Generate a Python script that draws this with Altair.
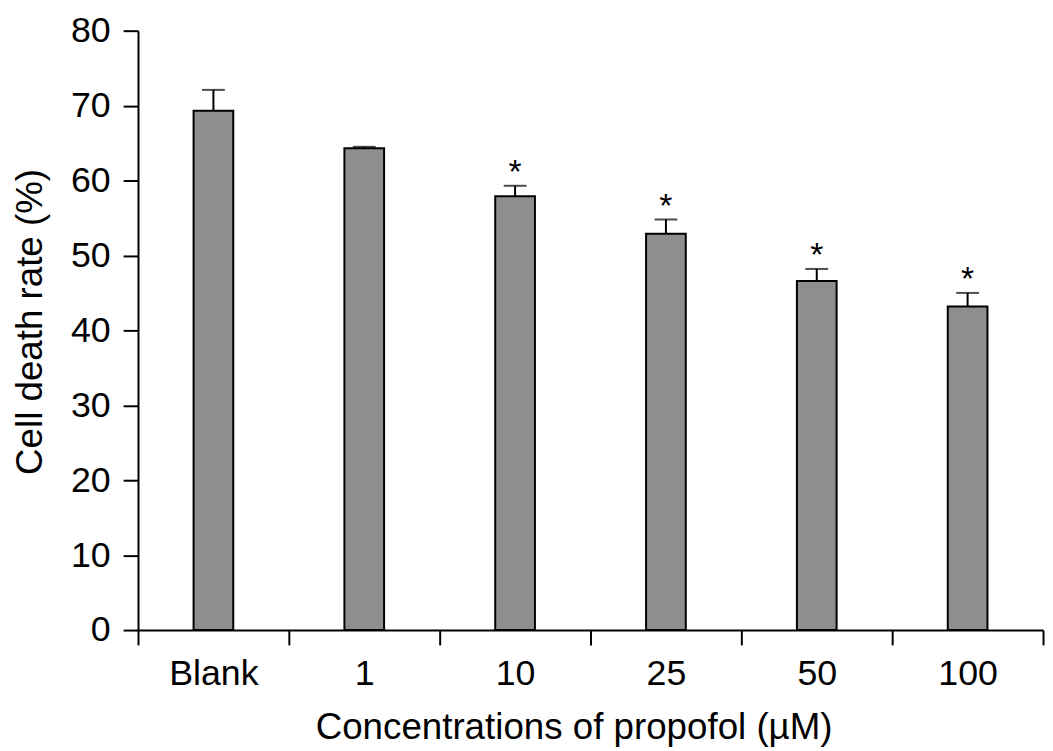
import altair as alt
import pandas as pd

categories = ["Blank", "1", "10", "25", "50", "100"]
means = [69.3, 64.3, 57.9, 52.9, 46.6, 43.2]
upper = [72.1, 64.5, 59.3, 54.8, 48.2, 45.0]
stars = ["", "", "*", "*", "*", "*"]
y_ticks = [0, 10, 20, 30, 40, 50, 60, 70, 80]

df = pd.DataFrame({"cat": categories, "mean": means, "upper": upper, "star": stars})

FONT = "Liberation Sans"

x_enc = alt.X(
    "cat:N",
    sort=categories,
    scale=alt.Scale(paddingInner=0, paddingOuter=0),
    axis=alt.Axis(
        title="Concentrations of propofol (\u00b5M)",
        labelAngle=0,
        tickBand="extent",
        tickSize=15,
        tickWidth=2,
        tickColor="black",
        domainColor="black",
        domainWidth=2,
        labelFont=FONT,
        labelFontSize=36,
        labelColor="black",
        labelPadding=12,
        titleFont=FONT,
        titleFontSize=37,
        titleFontWeight="normal",
        titleColor="black",
        titleX=439,
        titleY=109,
        titleAlign="center",
        titleBaseline="alphabetic",
    ),
)

y_enc = alt.Y(
    "mean:Q",
    scale=alt.Scale(domain=[0, 80], nice=False),
    axis=alt.Axis(
        title="Cell death rate (%)",
        values=y_ticks,
        grid=False,
        tickSize=15,
        tickWidth=2,
        tickColor="black",
        domainColor="black",
        domainWidth=2,
        labelFont=FONT,
        labelFontSize=36,
        labelColor="black",
        labelPadding=13,
        titleFont=FONT,
        titleFontSize=37,
        titleFontWeight="normal",
        titleColor="black",
        titleAngle=-90,
        titleX=-97,
        titleY=293,
        titleAlign="center",
        titleBaseline="alphabetic",
    ),
)

base = alt.Chart(df)

bars = base.mark_bar(size=40, color="#8e8e8e", stroke="black", strokeWidth=2).encode(
    x=x_enc, y=y_enc
)

err = base.mark_rule(color="black", strokeWidth=2).encode(
    x=alt.X("cat:N", sort=categories),
    y=alt.Y("mean:Q"),
    y2="upper:Q",
)

caps = base.mark_tick(orient="horizontal", size=23, thickness=2, color="black").encode(
    x=alt.X("cat:N", sort=categories),
    y=alt.Y("upper:Q"),
)

star_text = base.mark_text(
    font=FONT, fontSize=34, baseline="alphabetic", dy=-3, color="black"
).encode(
    x=alt.X("cat:N", sort=categories),
    y=alt.Y("upper:Q"),
    text="star:N",
)

chart = (
    alt.layer(bars, err, caps, star_text)
    .properties(
        width=912,
        height=604,
        autosize=alt.AutoSizeParams(type="none"),
        padding={"left": 131, "top": 20, "right": 2, "bottom": 117},
        background="white",
    )
    .configure_view(stroke=None)
)

chart.save("out.html", embed_options={"renderer": "svg", "actions": False})
